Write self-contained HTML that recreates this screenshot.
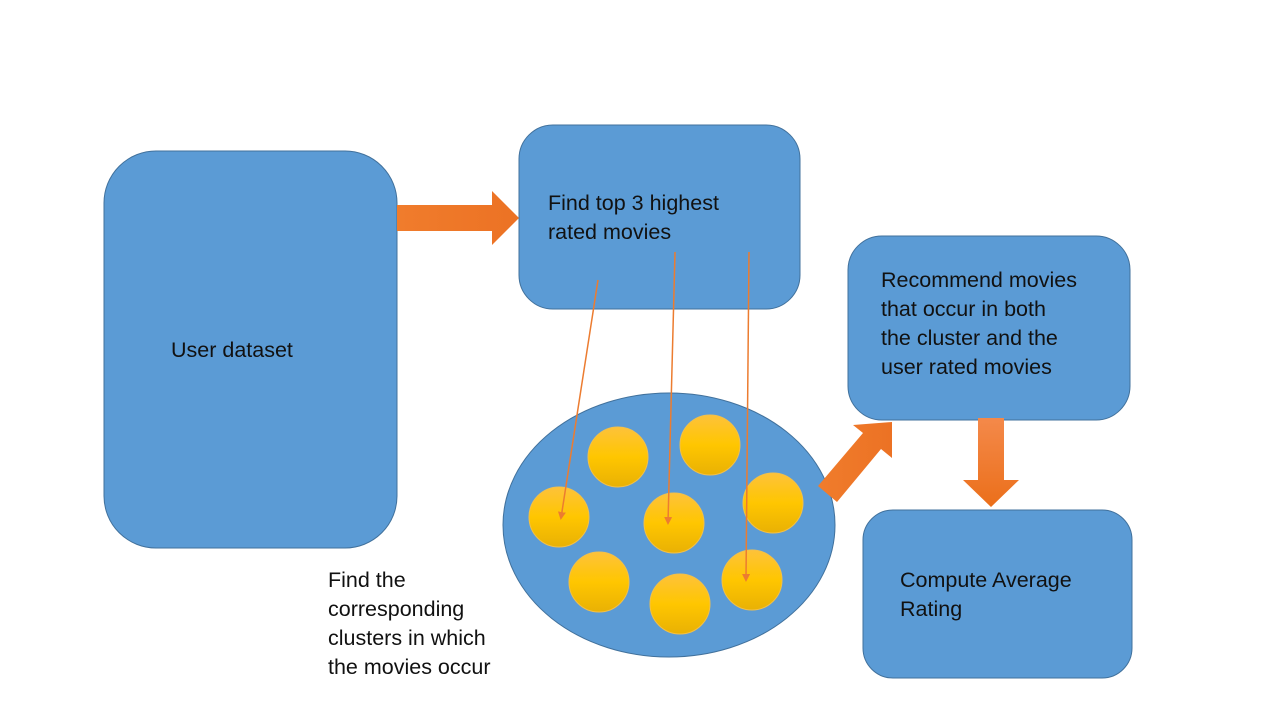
<!DOCTYPE html>
<html><head><meta charset="utf-8"><style>body{margin:0;background:#fff}svg{display:block}text{font-family:"Liberation Sans",sans-serif;font-size:21.5px;fill:#111}</style></head>
<body><svg width="1280" height="720" viewBox="0 0 1280 720">
<defs>
<linearGradient id="g" x1="0" y1="0" x2="0" y2="1"><stop offset="0" stop-color="#fdc23a"/><stop offset="0.5" stop-color="#ffc600"/><stop offset="1" stop-color="#e9b104"/></linearGradient>
<linearGradient id="o" x1="0" y1="0" x2="1" y2="0"><stop offset="0" stop-color="#f07c2c"/><stop offset="1" stop-color="#ec7224"/></linearGradient>
<linearGradient id="od" x1="0" y1="0" x2="0" y2="1"><stop offset="0" stop-color="#f4894a"/><stop offset="1" stop-color="#eb6f1a"/></linearGradient>
<marker id="a" markerWidth="8" markerHeight="8" refX="6" refY="4" orient="auto" markerUnits="userSpaceOnUse"><path d="M0,0 L8,4 L0,8z" fill="#ec7c30"/></marker>
</defs>
<g fill="#5b9bd5" stroke="#41719c" stroke-width="1">
<rect x="104" y="151" width="293" height="397" rx="52"/>
<rect x="519" y="125" width="281" height="184" rx="34"/>
<rect x="848" y="236" width="282" height="184" rx="34"/>
<rect x="863" y="510" width="269" height="168" rx="30"/>
<ellipse cx="669" cy="525" rx="166" ry="132"/>
</g>
<path d="M397,205 H492 V191 L519,218 L492,245 V231 H397z" fill="url(#o)"/>
<path d="M978,418 H1004 V480 H1019 L991,507 L963,480 H978z" fill="url(#od)"/>
<path d="M818,486 L863,433 L853,425 L892,422 L892,458 L881,449 L837,502z" fill="url(#o)"/>
<g fill="url(#g)" stroke="#f2c04a" stroke-width="1">
<circle cx="618" cy="457" r="30"/><circle cx="710" cy="445" r="30"/>
<circle cx="559" cy="517" r="30"/><circle cx="674" cy="523" r="30"/>
<circle cx="773" cy="503" r="30"/><circle cx="599" cy="582" r="30"/>
<circle cx="680" cy="604" r="30"/><circle cx="752" cy="580" r="30"/>
</g>
<g stroke="#ec7c30" stroke-width="1.5" fill="none">
<line x1="598" y1="280" x2="561" y2="518" marker-end="url(#a)"/>
<line x1="675" y1="252" x2="668" y2="523" marker-end="url(#a)"/>
<line x1="749" y1="252" x2="746" y2="580" marker-end="url(#a)"/>
</g>
<text x="171" y="357">User dataset</text>
<text x="548" y="210">Find top 3 highest</text>
<text x="548" y="239">rated movies</text>
<text x="881" y="287">Recommend movies</text>
<text x="881" y="316">that occur in both</text>
<text x="881" y="345">the cluster and the</text>
<text x="881" y="374">user rated movies</text>
<text x="900" y="587">Compute Average</text>
<text x="900" y="616">Rating</text>
<text x="328" y="587">Find the</text>
<text x="328" y="616">corresponding</text>
<text x="328" y="645">clusters in which</text>
<text x="328" y="674">the movies occur</text>
</svg></body></html>
